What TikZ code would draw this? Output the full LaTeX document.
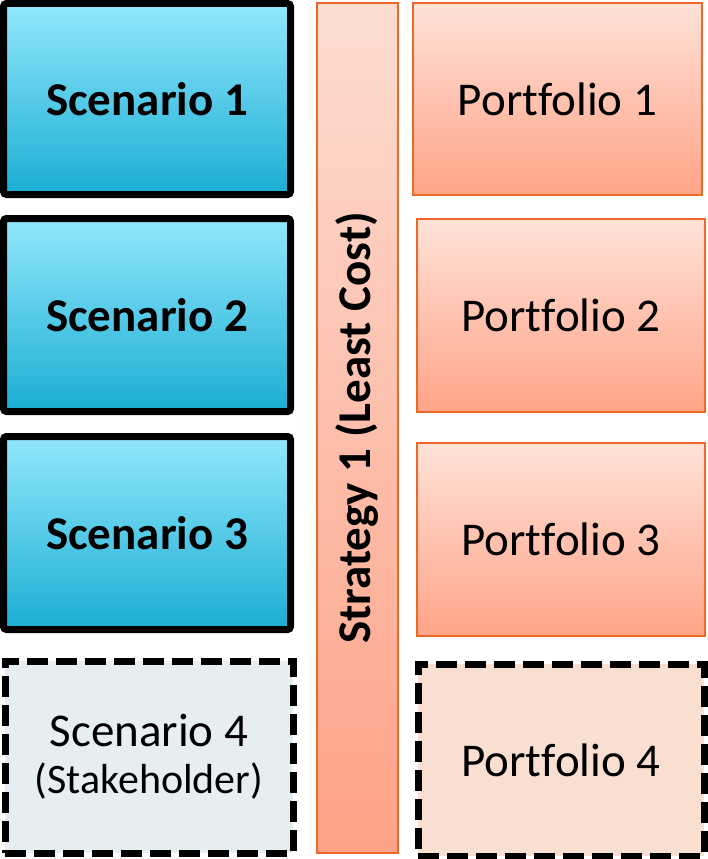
\documentclass[tikz,border=0pt]{standalone}
\usepackage{fontspec}
\setmainfont{Carlito}[Ligatures={NoCommon}]
\usepackage{tikz}

\definecolor{scentop}{HTML}{92E8FC}
\definecolor{scenbot}{HTML}{1AADD4}
\definecolor{porttop}{HTML}{FFE1D8}
\definecolor{portbot}{HTML}{FFA487}
\definecolor{strattop}{HTML}{FDDCD2}
\definecolor{stratbot}{HTML}{FDA286}
\definecolor{portline}{HTML}{EB6A26}
\definecolor{scenfour}{HTML}{E7EEF2}
\definecolor{portfour}{HTML}{F9DFD2}

\begin{document}
\begin{tikzpicture}[x=1pt, y=-1pt,
    box/.style={rectangle, inner sep=0pt, outer sep=0pt, align=center,
                font=\fontsize{47}{56}\selectfont},
    scen/.style={box, draw=black, line width=7pt, rounded corners=3pt,
                 top color=scentop, bottom color=scenbot,
                 font=\fontsize{47}{56}\selectfont\bfseries},
    port/.style={box, draw=portline, line width=2pt, top color=porttop, bottom color=portbot},
    extra/.style={box, draw=black, line width=7pt, dash pattern=on 21pt off 8pt}]
        \useasboundingbox (0,0) rectangle (707,859);

        \node [scen, minimum width=287pt, minimum height=191pt] (scen1) at (147,99)  {Scenario 1};   %
        \node [scen, minimum width=287pt, minimum height=193pt] (scen2) at (147,315) {Scenario 2};   %
        \node [scen, minimum width=287pt, minimum height=193pt] (scen3) at (147,533) {Scenario 3};   %
        \node [extra, fill=scenfour, minimum width=288pt, minimum height=192pt] (scen4) at (149,757)
              {Scenario 4\\[-9pt]{\fontsize{42}{47}\selectfont (Stakeholder)}};                     %Stakeholder

        \node [box, draw=portline, line width=2pt, top color=strattop, bottom color=stratbot,
               rotate=90, minimum width=850pt, minimum height=81pt, font=\fontsize{47}{56}\selectfont\bfseries]
              (strat) at (357.5,428) {Strategy 1 (Least Cost)};                                     %Strategy

        \node [port, minimum width=289pt, minimum height=192pt] (port1) at (557.5,99) {Portfolio 1}; %
        \node [port, minimum width=288pt, minimum height=193pt] (port2) at (561,315.5) {Portfolio 2};%
        \node [port, minimum width=288pt, minimum height=193pt] (port3) at (561,539.5) {Portfolio 3};%
        \node [extra, fill=portfour, minimum width=286pt, minimum height=192pt] (port4) at (561,760)
              {Portfolio 4};                                                                         %
\end{tikzpicture}
\end{document}
